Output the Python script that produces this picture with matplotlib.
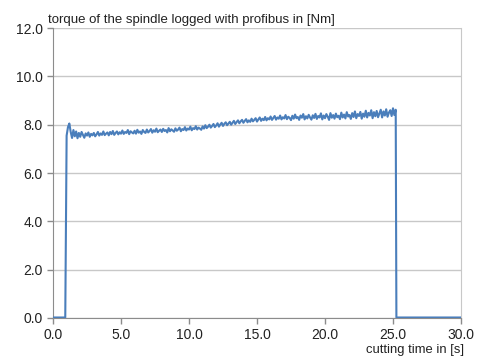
import matplotlib
matplotlib.use("Agg")
import matplotlib.pyplot as plt

plt.rcParams['font.family'] = ['Liberation Sans', 'DejaVu Sans']

# torque samples (time in s, torque in Nm)
t_idle_start = [0.0, 0.9]
tq_idle_start = [0.02, 0.02]

t_cut_start = 1.0
t_step = 0.1
tq_cut = [
    7.55, 7.90, 8.05, 7.70, 7.45, 7.78, 7.52, 7.72, 7.44, 7.66,
    7.50, 7.70, 7.58, 7.46, 7.64, 7.55, 7.68, 7.50, 7.62, 7.56,
    7.66, 7.52, 7.60, 7.70, 7.55, 7.64, 7.58, 7.72, 7.57, 7.63,
    7.68, 7.56, 7.70, 7.61, 7.74, 7.58, 7.66, 7.72, 7.60, 7.69,
    7.63, 7.76, 7.62, 7.70, 7.66, 7.78, 7.61, 7.73, 7.68, 7.64,
    7.75, 7.63, 7.79, 7.67, 7.72, 7.62, 7.78, 7.70, 7.66, 7.80,
    7.68, 7.74, 7.82, 7.67, 7.77, 7.71, 7.84, 7.69, 7.75, 7.80,
    7.70, 7.83, 7.74, 7.78, 7.68, 7.86, 7.73, 7.81, 7.76, 7.71,
    7.85, 7.75, 7.80, 7.88, 7.73, 7.82, 7.78, 7.90, 7.76, 7.84,
    7.80, 7.92, 7.77, 7.86, 7.82, 7.94, 7.80, 7.88, 7.84, 7.79,
    7.93, 7.84, 7.98, 7.86, 7.92, 8.00, 7.88, 7.95, 8.03, 7.90,
    7.97, 8.06, 7.92, 8.01, 8.08, 7.95, 8.04, 8.10, 7.98, 8.05,
    8.12, 8.00, 8.08, 8.16, 8.03, 8.11, 8.18, 8.06, 8.14, 8.20,
    8.08, 8.16, 8.23, 8.10, 8.18, 8.12, 8.25, 8.14, 8.20, 8.27,
    8.13, 8.22, 8.30, 8.16, 8.25, 8.19, 8.32, 8.18, 8.27, 8.22,
    8.34, 8.20, 8.28, 8.36, 8.21, 8.30, 8.25, 8.38, 8.22, 8.31,
    8.26, 8.40, 8.23, 8.33, 8.28, 8.19, 8.37, 8.25, 8.42, 8.27,
    8.32, 8.20, 8.38, 8.29, 8.44, 8.22, 8.35, 8.26, 8.41, 8.30,
    8.21, 8.39, 8.28, 8.45, 8.24, 8.36, 8.30, 8.47, 8.22, 8.38,
    8.27, 8.44, 8.33, 8.20, 8.48, 8.29, 8.40, 8.25, 8.46, 8.31,
    8.37, 8.23, 8.50, 8.30, 8.42, 8.26, 8.52, 8.34, 8.40, 8.24,
    8.48, 8.32, 8.55, 8.27, 8.44, 8.36, 8.53, 8.25, 8.46, 8.33,
    8.58, 8.30, 8.49, 8.38, 8.60, 8.27, 8.52, 8.35, 8.57, 8.31,
    8.46, 8.62, 8.30, 8.55, 8.38, 8.64, 8.33, 8.50, 8.60, 8.36,
    8.68, 8.40, 8.62,
]

t_idle_end = [25.25, 30.0]
tq_idle_end = [0.02, 0.02]

x_ticks = [0, 5, 10, 15, 20, 25, 30]
y_ticks = [0, 2, 4, 6, 8, 10, 12]

t_cut = [round(t_cut_start + i * t_step, 2) for i in range(len(tq_cut))]
t = t_idle_start + t_cut + t_idle_end
tq = tq_idle_start + tq_cut + tq_idle_end

fig = plt.figure(figsize=(4.79, 3.6), dpi=100)
ax = fig.add_axes([0.1107, 0.1167, 0.8517, 0.8053])

ax.plot(t, tq, color='#4a7ebb', linewidth=1.5, zorder=3)

ax.set_xlim(0, 30)
ax.set_ylim(0, 12)
ax.set_xticks(x_ticks)
ax.set_yticks(y_ticks)
ax.set_xticklabels([f"{v:.1f}" for v in x_ticks])
ax.set_yticklabels([f"{v:.1f}" for v in y_ticks])

ax.yaxis.grid(True, color='#c8c8c8', linewidth=1.0)
ax.set_axisbelow(True)
for side in ['left', 'bottom']:
    ax.spines[side].set_color('#8c8c8c')
ax.spines['right'].set_color('#c8c8c8')
ax.spines['top'].set_visible(False)
ax.tick_params(axis='both', colors='#8c8c8c', labelcolor='#222222',
               labelsize=10, length=4, width=1, direction='out')
ax.tick_params(axis='x', pad=3)

fig.text(0.101, 0.928, "torque of the spindle logged with profibus in [Nm]",
         fontsize=9.5, color='#222222', ha='left', va='bottom')
fig.text(0.968, 0.010, "cutting time in [s]",
         fontsize=9.4, color='#222222', ha='right', va='bottom')

fig.savefig("out.png", dpi=100)
